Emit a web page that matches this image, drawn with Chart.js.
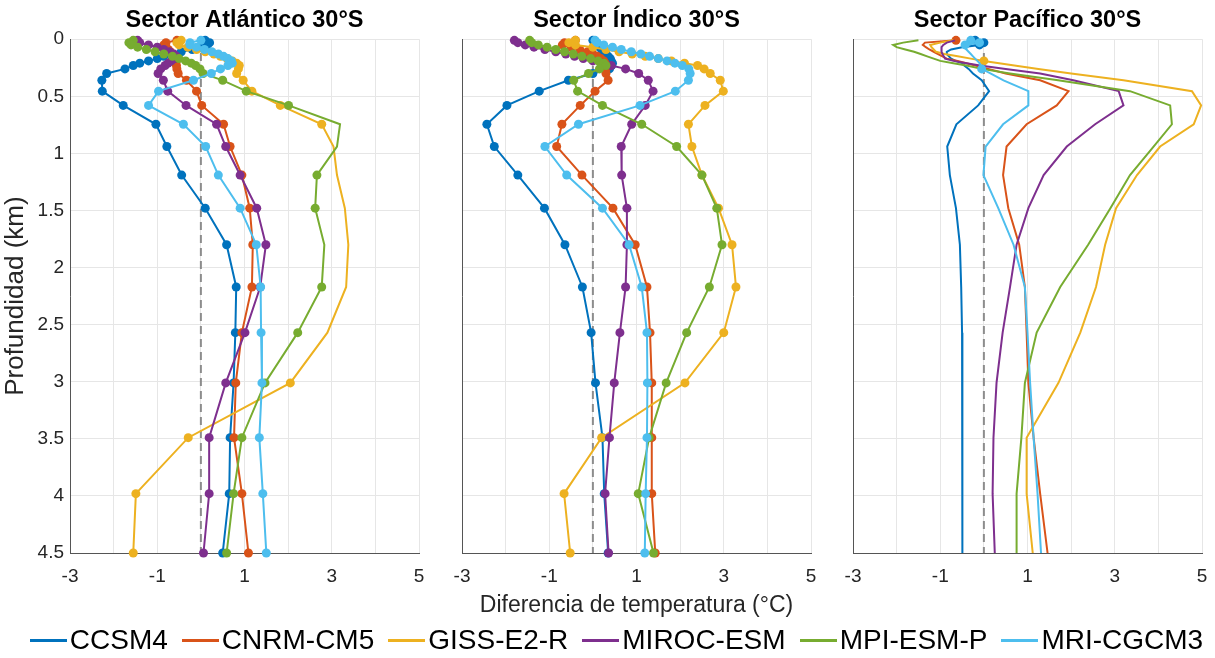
<!DOCTYPE html>
<html lang="es">
<head>
<meta charset="utf-8">
<script src="https://cdn.jsdelivr.net/npm/chart.js@4.4.1/dist/chart.umd.min.js"></script>
<style>
  html, body { margin: 0; padding: 0; background: #fff; overflow: hidden; }
  body { width: 1215px; height: 658px; position: relative; font-family: "Liberation Sans", Arial, sans-serif; }
  canvas { position: absolute; top: 0; }
  #leyenda { position: absolute; left: 18px; top: 622px; width: 1197px; height: 36px;
             display: flex; justify-content: center; align-items: center; font-size: 28px; color: #000; }
  .item { display: flex; align-items: center; margin: 0 7px; }
  .linea { display: inline-block; width: 37px; height: 3px; margin-right: 3px; }
</style>
</head>
<body>
<canvas id="atl" width="432" height="625" style="left:0px"></canvas>
<canvas id="ind" width="432" height="625" style="left:392px"></canvas>
<canvas id="pac" width="432" height="625" style="left:783px"></canvas>
<div id="leyenda"></div>
<script>
// modelos y colores
const modelos = ['CCSM4', 'CNRM-CM5', 'GISS-E2-R', 'MIROC-ESM', 'MPI-ESM-P', 'MRI-CGCM3'];
const colores = ['#0072BD', '#D95319', '#EDB120', '#7E2F8E', '#77AC30', '#4DBEEE'];

// profundidad (km)
const profundidad = [0.01, 0.03, 0.05, 0.07, 0.09, 0.11, 0.13, 0.15, 0.17, 0.19, 0.21, 0.23, 0.26, 0.30,
  0.36, 0.455, 0.58, 0.745, 0.94, 1.19, 1.48, 1.80, 2.17, 2.57, 3.01, 3.49, 3.98, 4.5];
const xEtiquetas = [-3, -1, 1, 3, 5];
const yTicks = [0, 0.5, 1, 1.5, 2, 2.5, 3, 3.5, 4, 4.5];
const lineaCero = [0.12, 4.5];

// Sector Atlántico
const atlCCSM4 = [0.1, 0.2, 0.15, 0.0, -0.2, -0.45, -0.65, -0.85, -1.0, -1.2, -1.4, -1.55, -1.74, -2.16, -2.27, -2.26, -1.78, -1.03, -0.78, -0.44, 0.10, 0.59, 0.81, 0.79, 0.75, 0.67, 0.65, 0.50];
const atlCNRM = [-0.55, -0.8, -0.85, -0.8, -0.75, -0.7, -0.66, -0.63, -0.6, -0.6, -0.58, -0.56, -0.55, -0.52, -0.33, -0.10, 0.02, 0.52, 0.67, 0.94, 1.12, 1.19, 1.17, 0.94, 0.80, 0.76, 0.94, 1.09];
const atlGISS = [-0.45, -0.55, -0.5, -0.3, -0.1, 0.1, 0.3, 0.45, 0.6, 0.72, 0.82, 0.88, 0.86, 0.82, 0.97, 1.17, 1.82, 2.77, 3.04, 3.12, 3.3, 3.38, 3.33, 2.9, 2.05, -0.29, -1.49, -1.55];
const atlMIROC = [-1.45, -1.4, -1.2, -1.0, -0.85, -0.72, -0.62, -0.56, -0.6, -0.68, -0.75, -0.82, -0.92, -0.98, -0.86, -0.76, -0.34, 0.36, 0.57, 0.90, 1.28, 1.49, 1.36, 1.01, 0.57, 0.19, 0.19, 0.06];
const atlMPI = [-1.55, -1.65, -1.6, -1.45, -1.25, -1.05, -0.85, -0.65, -0.5, -0.35, -0.22, -0.12, -0.02, 0.05, 0.50, 1.04, 2.01, 3.19, 3.12, 2.66, 2.62, 2.83, 2.77, 2.22, 1.47, 0.94, 0.75, 0.59];
const atlMRI = [0.0, -0.25, -0.25, -0.1, 0.08, 0.25, 0.4, 0.52, 0.62, 0.7, 0.72, 0.62, 0.45, 0.24, -0.17, -0.97, -1.20, -0.40, 0.11, 0.40, 0.90, 1.27, 1.37, 1.38, 1.40, 1.34, 1.42, 1.50];

// Sector Índico
const indCCSM4 = [0.0, 0.05, 0.1, 0.15, 0.2, 0.25, 0.3, 0.35, 0.4, 0.42, 0.45, 0.43, 0.38, 0.0, -0.56, -1.23, -1.97, -2.43, -2.26, -1.72, -1.11, -0.64, -0.24, -0.04, 0.06, 0.22, 0.26, 0.35];
const indCNRM = [-0.4, -0.65, -0.7, -0.5, -0.3, -0.12, 0.0, 0.1, 0.18, 0.25, 0.28, 0.3, 0.3, 0.30, 0.35, 0.05, -0.29, -0.71, -0.83, -0.25, 0.46, 0.97, 1.24, 1.31, 1.35, 1.35, 1.35, 1.43];
const indGISS = [-0.4, -0.55, -0.4, 0.0, 0.3, 0.6, 0.9, 1.2, 1.5, 1.8, 2.1, 2.4, 2.55, 2.69, 2.92, 2.99, 2.57, 2.19, 2.27, 2.50, 2.88, 3.19, 3.28, 3.0, 2.11, 0.2, -0.66, -0.52];
const indMIROC = [-1.8, -1.72, -1.55, -1.35, -1.1, -0.85, -0.62, -0.42, -0.22, 0.0, 0.2, 0.42, 0.75, 1.05, 1.27, 1.38, 1.20, 0.89, 0.65, 0.66, 0.78, 0.78, 0.75, 0.62, 0.49, 0.38, 0.28, 0.36];
const indMPI = [-1.45, -1.4, -1.25, -1.05, -0.85, -0.65, -0.45, -0.25, -0.05, 0.12, 0.25, 0.3, 0.15, -0.10, -0.44, -0.35, 0.22, 1.12, 1.92, 2.50, 2.84, 2.96, 2.67, 2.15, 1.68, 1.29, 1.04, 1.39];
const indMRI = [0.05, 0.1, 0.25, 0.45, 0.65, 0.88, 1.1, 1.3, 1.5, 1.7, 1.88, 2.05, 2.2, 2.23, 2.19, 1.89, 1.08, -0.33, -1.10, -0.60, 0.22, 0.83, 1.12, 1.24, 1.25, 1.24, 1.21, 1.19];

// Sector Pacífico
const pacCCSM4 = [-0.2, 0.0, -0.1, -0.5, -0.75, -0.85, -0.85, -0.8, -0.75, -0.65, -0.5, -0.45, -0.35, -0.25, -0.05, 0.12, -0.13, -0.63, -0.84, -0.78, -0.64, -0.55, -0.52, -0.5, -0.5, -0.49, -0.49, -0.49];
const pacCNRM = [-0.64, -1.35, -1.4, -1.33, -1.25, -1.15, -1.05, -0.95, -0.85, -0.6, -0.4, -0.2, 0.1, 0.5, 1.29, 1.94, 1.67, 0.98, 0.52, 0.44, 0.56, 0.81, 0.94, 0.98, 1.02, 1.14, 1.29, 1.46];
const pacGISS = [-0.7, -1.0, -1.23, -1.2, -1.15, -1.1, -0.9, -0.6, -0.3, 0.0, 0.35, 0.7, 1.25, 2.0, 3.2, 4.77, 4.98, 4.81, 4.04, 3.51, 3.03, 2.78, 2.57, 2.21, 1.71, 0.98, 0.98, 1.12];
const pacMIROC = [-0.66, -0.85, -0.93, -0.97, -0.97, -0.97, -0.95, -0.92, -0.89, -0.7, -0.4, -0.09, 0.5, 1.29, 2.05, 3.09, 3.20, 2.55, 1.90, 1.37, 1.02, 0.75, 0.6, 0.43, 0.29, 0.22, 0.2, 0.25];
const pacMPI = [-1.5, -1.85, -2.08, -2.0, -1.8, -1.6, -1.45, -1.3, -1.15, -1.0, -0.7, -0.4, -0.05, 0.6, 1.7, 3.35, 4.27, 4.31, 3.89, 3.35, 2.9, 2.39, 1.75, 1.21, 0.94, 0.86, 0.75, 0.75];
const pacMRI = [-0.3, -0.1, -0.43, -0.45, -0.4, -0.35, -0.3, -0.25, -0.2, -0.15, -0.1, -0.07, -0.05, 0.15, 0.45, 1.02, 1.02, 0.44, 0.04, -0.01, 0.33, 0.68, 0.94, 1.0, 1.06, 1.14, 1.23, 1.31];

// niveles sin marcador (Atlántico) y con marcador (Pacífico)
const atlSinMarca = { 'GISS-E2-R': [18, 19, 20, 21, 22, 23], 'MPI-ESM-P': [17, 18, 21] };
const pacConMarca = { 'CCSM4': [0, 1, 2], 'CNRM-CM5': [0], 'GISS-E2-R': [9], 'MRI-CGCM3': [0, 1, 2, 12] };

const FUENTE = '"Liberation Sans", Arial, sans-serif';
const TEXTO = '#262626';

function radios(modelo, sinMarca, conMarca) {
  return profundidad.map((_, i) => {
    if (conMarca) return (conMarca[modelo] || []).includes(i) ? 4.5 : 0;
    return (sinMarca && (sinMarca[modelo] || []).includes(i)) ? 0 : 4.5;
  });
}

function panel(id, titulo, series, o) {
  const datasets = series.map((vals, i) => ({
    label: modelos[i],
    data: vals.map((v, k) => ({ x: v, y: profundidad[k] })),
    borderColor: colores[i],
    backgroundColor: colores[i],
    pointBackgroundColor: colores[i],
    pointBorderWidth: 0,
    pointRadius: radios(modelos[i], o.sinMarca, o.conMarca),
    borderWidth: 2,
    showLine: true,
    clip: false,
    order: 6 - i
  }));
  datasets.push({
    label: 'cero',
    data: lineaCero.map(y => ({ x: 0, y: y })),
    borderColor: '#8c8c8c',
    borderWidth: 2,
    borderDash: [8, 5],
    pointRadius: 0,
    showLine: true,
    order: 20
  });

  new Chart(document.getElementById(id), {
    type: 'scatter',
    data: { datasets },
    options: {
      responsive: false,
      animation: false,
      events: [],
      layout: { padding: { left: 0, right: 13, top: 0, bottom: 0 } },
      plugins: {
        legend: { display: false },
        tooltip: { enabled: false },
        title: {
          display: true, text: titulo, fullSize: false, color: '#000',
          font: { family: FUENTE, size: 23.5, weight: 'bold' },
          padding: { top: 6, bottom: 5 }
        }
      },
      scales: {
        x: {
          type: 'linear', min: -3, max: 5,
          afterFit: s => { s.height = 72; s.paddingLeft = 0; s.paddingRight = 0; },
          ticks: {
            stepSize: 1, autoSkip: false, maxRotation: 0, padding: 12, color: TEXTO,
            font: { family: FUENTE, size: 19 },
            callback: v => (xEtiquetas.includes(v) ? String(v) : '')
          },
          grid: { color: '#e6e6e6', drawTicks: false },
          border: { color: '#555', width: 1 },
          title: {
            display: !!o.xTitulo, text: o.xTitulo || '', color: TEXTO,
            font: { family: FUENTE, size: 23 }, padding: { top: 0, bottom: 6 }
          }
        },
        y: {
          type: 'linear', reverse: true, min: 0, max: 4.5,
          afterFit: s => { s.width = 70; s.paddingTop = 0; s.paddingBottom = 0; },
          afterBuildTicks: s => { s.ticks = yTicks.map(v => ({ value: v })); },
          ticks: {
            display: !!o.yTitulo, padding: 6, color: TEXTO,
            font: { family: FUENTE, size: 19 },
            callback: v => String(v)
          },
          grid: { color: '#e6e6e6', drawTicks: false },
          border: { color: '#555', width: 1 },
          title: {
            display: !!o.yTitulo, text: o.yTitulo || '', color: TEXTO,
            font: { family: FUENTE, size: 26 }, padding: { top: 0, bottom: 0 }
          }
        }
      }
    }
  });
}

panel('atl', 'Sector Atlántico 30°S',
  [atlCCSM4, atlCNRM, atlGISS, atlMIROC, atlMPI, atlMRI],
  { sinMarca: atlSinMarca, yTitulo: 'Profundidad (km)' });
panel('ind', 'Sector Índico 30°S',
  [indCCSM4, indCNRM, indGISS, indMIROC, indMPI, indMRI],
  { xTitulo: 'Diferencia de temperatura (°C)' });
panel('pac', 'Sector Pacífico 30°S',
  [pacCCSM4, pacCNRM, pacGISS, pacMIROC, pacMPI, pacMRI],
  { conMarca: pacConMarca });

// leyenda
const ley = document.getElementById('leyenda');
modelos.forEach((m, i) => {
  const it = document.createElement('div');
  it.className = 'item';
  it.innerHTML = '<span class="linea" style="background:' + colores[i] + '"></span><span>' + m + '</span>';
  ley.appendChild(it);
});
</script>
</body>
</html>
